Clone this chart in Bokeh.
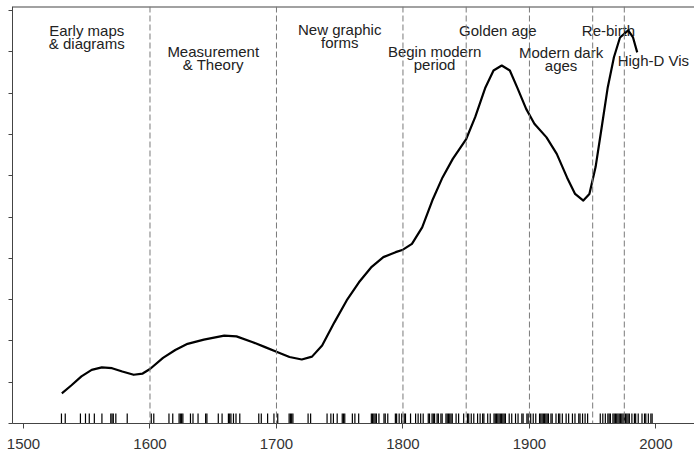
from bokeh.plotting import figure
from bokeh.models import Range1d, Span, FixedTicker, ColumnDataSource, CustomJSTickFormatter
from bokeh.embed import file_html
from bokeh.resources import INLINE
from bokeh.core.properties import value

# Density curve of milestones
curve_years = [1530.3, 1537.7, 1545.8, 1553.9, 1561.9, 1570.0, 1578.1, 1587.1, 1594.2, 1600.0,
               1610.3, 1620.0, 1629.7, 1642.6, 1658.7, 1668.4, 1681.3, 1691.0, 1700.0, 1710.3,
               1720.0, 1728.1, 1736.1, 1745.8, 1755.5, 1765.2, 1774.8, 1784.5, 1794.2, 1800.0,
               1807.1, 1815.2, 1823.2, 1831.3, 1839.4, 1850.0, 1857.1, 1865.2, 1871.6, 1878.1,
               1884.5, 1890.3, 1897.4, 1903.9, 1913.5, 1921.6, 1929.7, 1936.1, 1942.6, 1947.4,
               1952.3, 1957.1, 1961.9, 1966.8, 1971.6, 1978.1, 1981.9, 1985.2]
curve_density = [0.73, 0.92, 1.14, 1.30, 1.36, 1.34, 1.26, 1.18, 1.21, 1.32,
                 1.59, 1.78, 1.93, 2.03, 2.13, 2.11, 1.97, 1.85, 1.74, 1.61,
                 1.55, 1.62, 1.89, 2.45, 2.98, 3.42, 3.78, 4.03, 4.15, 4.21,
                 4.35, 4.75, 5.40, 5.96, 6.41, 6.89, 7.42, 8.14, 8.55, 8.67,
                 8.55, 8.14, 7.62, 7.26, 6.93, 6.53, 5.96, 5.56, 5.40, 5.56,
                 6.21, 7.17, 8.14, 8.87, 9.35, 9.52, 9.35, 8.99]

# Rug: years of individual milestones
rug_years = [1530, 1533, 1545, 1549, 1552, 1556, 1562, 1569, 1570, 1571, 1573, 1582,
             1601, 1603, 1615, 1618, 1623, 1624, 1625, 1626, 1632, 1634, 1638, 1644, 1645,
             1654, 1657, 1662, 1663, 1664, 1666, 1668, 1671, 1686, 1688, 1693, 1698, 1701,
             1710, 1711, 1712, 1713, 1725, 1727, 1740, 1743, 1745, 1748, 1752, 1753, 1754,
             1760, 1762, 1765, 1775, 1776, 1777, 1778, 1779, 1781, 1785, 1786, 1788, 1794,
             1795, 1797, 1799, 1801, 1802, 1806, 1810, 1812, 1814, 1816, 1820, 1821, 1823,
             1824, 1825, 1827, 1828, 1830, 1831, 1834, 1835, 1836, 1837, 1838, 1839, 1842,
             1844, 1848, 1851, 1852, 1854, 1856, 1859, 1861, 1863, 1864, 1867, 1869, 1872,
             1873, 1874, 1875, 1876, 1877, 1878, 1879, 1880, 1881, 1884, 1886, 1889, 1891,
             1894, 1895, 1898, 1899, 1901, 1903, 1905, 1908, 1909, 1910, 1911, 1912, 1913,
             1914, 1915, 1917, 1918, 1921, 1923, 1924, 1926, 1929, 1931, 1934, 1936, 1939,
             1940, 1942, 1944, 1946, 1956, 1958, 1960, 1962, 1963, 1964, 1966, 1967, 1968,
             1969, 1970, 1971, 1972, 1973, 1974, 1975, 1976, 1977, 1978, 1979, 1981, 1983,
             1984, 1986, 1989, 1991, 1992, 1994, 1996, 1997]

# Period boundaries
period_breaks = [1600, 1700, 1800, 1850, 1900, 1950, 1975]

# Period labels (first lines)
label_line1 = ["Early maps", "Measurement", "New graphic", "Begin modern", "Golden age",
               "Modern dark", "Re-birth", "High-D Vis"]
label_years = [1550, 1650, 1750, 1825, 1875, 1925, 1962.5, 1998]
label_y = [9.52, 9.01, 9.54, 9.01, 9.52, 8.98, 9.52, 8.79]
# second lines of the two-line labels
label_line2 = ["& diagrams", "& Theory", "forms", "period", "ages"]
label2_years = [1550, 1650, 1750, 1825, 1925]
label2_y = [9.52, 9.01, 9.54, 9.01, 8.98]

x_ticks = [1500, 1600, 1700, 1800, 1900, 2000]
y_ticks = [0, 1, 2, 3, 4, 5, 6, 7, 8, 9, 10]

FONT = "Liberation Sans"

p = figure(width=694, frame_height=417, output_backend="svg", toolbar_location=None,
           x_range=Range1d(1491.3, 2030.5), y_range=Range1d(0, 10.1),
           min_border_left=12, min_border_right=0, min_border_top=6, min_border_bottom=0)
p.grid.visible = False
p.outline_line_color = None
p.background_fill_color = "white"
p.border_fill_color = "white"

# axes
p.xaxis.ticker = FixedTicker(ticks=x_ticks)
p.xaxis.minor_tick_line_color = None
p.xaxis.major_tick_out = 5
p.xaxis.major_tick_in = 0
p.xaxis.axis_line_color = "#444444"
p.xaxis.major_tick_line_color = "#444444"
p.xaxis.major_label_text_font = FONT
p.xaxis.major_label_text_font_size = "15px"
p.xaxis.major_label_text_color = "#333333"
p.xaxis.major_label_standoff = 10

p.yaxis.ticker = FixedTicker(ticks=y_ticks)
p.yaxis.minor_tick_line_color = None
p.yaxis.major_tick_out = 4
p.yaxis.major_tick_in = 0
p.yaxis.axis_line_color = "#444444"
p.yaxis.major_tick_line_color = "#444444"
p.yaxis.formatter = CustomJSTickFormatter(code="return ''")
p.yaxis.major_label_standoff = 0

# top border
p.add_layout(Span(location=10.1, dimension="width", line_color="#444444", line_width=2))

# period boundaries
for yr in period_breaks:
    p.add_layout(Span(location=yr, dimension="height", line_color="#7a7a7a",
                      line_dash="6 3", line_width=1))

# rug
p.segment(x0=rug_years, y0=[0] * len(rug_years), x1=rug_years, y1=[0.24] * len(rug_years),
          line_color="black", line_width=1.2, line_alpha=1.0)

# labels
src1 = ColumnDataSource(dict(x=label_years, y=label_y, t=label_line1))
src2 = ColumnDataSource(dict(x=label2_years, y=label2_y, t=label_line2))
p.text(x="x", y="y", text="t", source=src1, text_font=value(FONT), text_font_size="15px",
       text_align="center", text_baseline="middle", text_color="#222222")
p.text(x="x", y="y", text="t", source=src2, text_font=value(FONT), text_font_size="15px",
       text_align="center", text_baseline="middle", text_color="#222222", y_offset=13)

# density curve
p.line(curve_years, curve_density, line_color="black", line_width=2.2, line_join="round")

open("out.html", "w").write(file_html(p, INLINE))
